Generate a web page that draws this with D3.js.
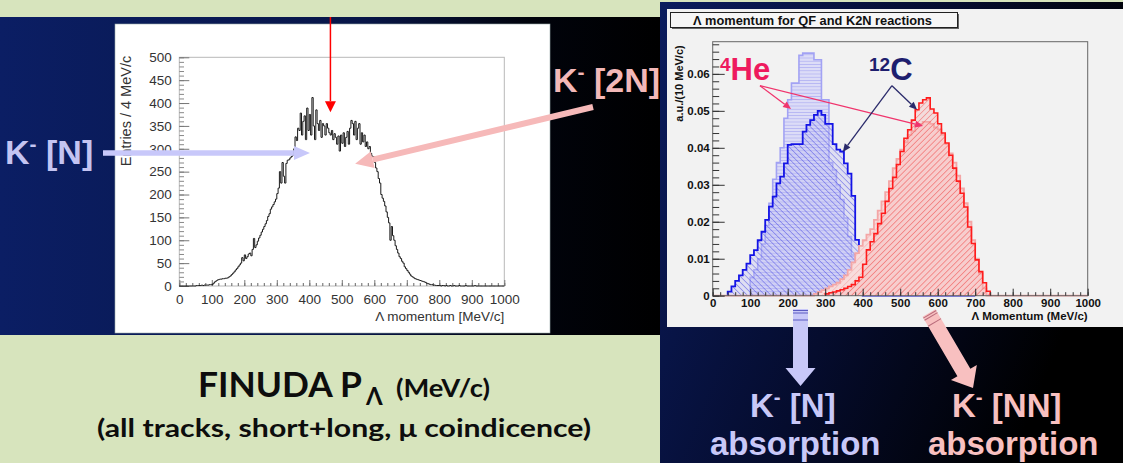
<!DOCTYPE html>
<html>
<head>
<meta charset="utf-8">
<script src="https://cdn.jsdelivr.net/npm/d3@7"></script>
<style>
  body { margin: 0; background: #000; }
  svg { display: block; }
</style>
</head>
<body>
<script>
// ---------- data ----------
// FINUDA histogram, 4 MeV/c bins starting at 0
var finudaBin = 4;
var finudaCounts = [
  0,0,0,0,0,0,0,0,0,0,0,0,0,1,1,1,1,2,1,2,2,2,2,3,3,
  3,6,9,11,13,14,15,15,16,16,17,17,18,20,22,25,28,31,35,38,42,46,50,62,55,
  68,60,64,70,72,66,80,104,84,90,98,105,111,118,124,130,136,143,152,158,168,173,178,184,190,
  202,214,250,225,270,240,225,268,275,276,280,283,286,300,326,318,345,340,378,330,360,372,320,389,340,
  375,330,412,350,320,385,355,340,362,325,355,350,330,355,345,335,330,340,320,333,325,310,328,295,330,
  312,335,305,325,338,310,345,362,355,330,360,320,345,355,310,335,315,330,305,315,300,305,290,284,283,
  270,258,250,235,225,200,192,185,175,162,150,138,100,130,110,100,88,80,72,64,60,54,50,42,38,
  34,30,26,22,20,18,16,15,14,13,12,11,10,9,8,6,5,4,3,3,2,2,1,1,1,
  1,0,1,1,0,1,0,0,1,0,0,1,0,0,0,1,0,0,0,0,1,0,0,0,0,
  0,0,1,0,0,0,0,0,0,0,0,0,0,0,0,0,0,0,0,0,0,0,0,0,0
];
var finudaXTicks = [0,100,200,300,400,500,600,700,800,900,1000];
var finudaYTicks = [0,50,100,150,200,250,300,350,400,450,500];

// simulation, 10 MeV/c bins
var simBin = 10;
var he4QFStart = 100;
var he4QF = [0.005,0.007,0.010,0.014,0.019,0.025,0.0315,0.036,0.040,0.048,
             0.053,0.0575,0.0575,0.065,0.0656,0.0656,0.0656,0.0638,0.0638,0.053,
             0.053,0.036,0.034,0.030,0.026,0.021,0.016,0.011,0.006,0.002];
var c12QFStart = 40;
var c12QF = [0.0011,0.0025,0.004,0.0055,0.007,0.0087,0.011,0.0123,0.015,0.0173,
             0.0205,0.0241,0.0268,0.0304,0.0322,0.0358,0.0408,0.041,0.041,0.041,
             0.0444,0.0462,0.0475,0.0489,0.0500,0.0489,0.0465,0.0465,0.041,0.0395,
             0.039,0.0358,0.033,0.027,0.0151,0.004];
var he4K2NStart = 270;
var he4K2N = [0.0005,0.001,0.0015,0.002,0.0025,0.003,0.0035,0.0045,0.0055,0.007,
              0.009,0.0115,0.0135,0.015,0.0165,0.018,0.0205,0.023,0.0255,0.028,
              0.031,0.0345,0.037,0.0395,0.0415,0.0435,0.0445,0.046,0.0465,0.047,
              0.047,0.0465,0.0455,0.045,0.0435,0.041,0.0385,0.036,0.0325,0.029,
              0.025,0.020,0.015,0.010,0.006,0.002];
var c12K2NStart = 300;
var c12K2N = [0.0005,0.0008,0.001,0.0013,0.0016,0.002,0.0025,0.003,0.004,0.005,
              0.0085,0.0124,0.0146,0.0168,0.0195,0.0223,0.0255,0.029,0.032,0.0355,
              0.039,0.0426,0.0449,0.0475,0.0503,0.0521,0.053,0.0535,0.0505,0.0494,
              0.0465,0.044,0.0413,0.038,0.0345,0.031,0.0277,0.024,0.0186,0.0141,
              0.0097,0.0065,0.0035,0.0012];
var simXTicks = [0,100,200,300,400,500,600,700,800,900,1000];
var simYTicks = [0,0.01,0.02,0.03,0.04,0.05,0.06];

var Main_Context = {};

// step points for a ROOT-like histogram outline
function stepPoints(start, bin, vals, lo, hi) {
  var pts = [[lo, 0]];
  vals.forEach((v, i) => pts.push([start + i * bin, v]));
  pts.push([start + vals.length * bin, 0]);
  pts.push([hi, 0]);
  return pts;
}

// line with a filled head at (x2,y2)
function arrow(g, x1, y1, x2, y2, color, width, len, half) {
  var a = Math.atan2(y2 - y1, x2 - x1);
  var bx = x2 - len * Math.cos(a), by = y2 - len * Math.sin(a);
  g.append("line").attr("x1", x1).attr("y1", y1).attr("x2", bx).attr("y2", by)
    .attr("stroke", color).attr("stroke-width", width);
  g.append("polygon")
    .attr("points", [[x2, y2],
                     [bx + half * Math.sin(a), by - half * Math.cos(a)],
                     [bx - half * Math.sin(a), by + half * Math.cos(a)]].join(" "))
    .attr("fill", color);
}

// K^- style label: "K" + raised dash + rest
function kLabel(g, x, y, size, color, rest) {
  var t = g.append("text").attr("x", x).attr("y", y)
    .attr("font-family", "Liberation Sans, Arial, sans-serif")
    .attr("font-weight", "bold").attr("font-size", size).attr("fill", color);
  t.append("tspan").text("K");
  t.append("tspan").attr("dy", -size * 0.38).attr("font-size", size * 0.62).text("-");
  t.append("tspan").attr("dy", size * 0.38).text(" " + rest);
  return t;
}

_main = (args) => {
  var W = 1123, H = 463;
  var svg = d3.select("body").append("svg").attr("width", W).attr("height", H);
  Main_Context.canvas = svg;

  var defs = svg.append("defs");
  var gl = defs.append("linearGradient").attr("id", "bgLeft");
  gl.append("stop").attr("offset", "0").attr("stop-color", "#0b1e64");
  gl.append("stop").attr("offset", "0.55").attr("stop-color", "#081648");
  gl.append("stop").attr("offset", "0.8").attr("stop-color", "#01030c");
  gl.append("stop").attr("offset", "1").attr("stop-color", "#000000");
  var gr = defs.append("linearGradient").attr("id", "bgRight").attr("x2", "1").attr("y2", "0.4");
  gr.append("stop").attr("offset", "0").attr("stop-color", "#0b1c5e");
  gr.append("stop").attr("offset", "0.55").attr("stop-color", "#050c2e");
  gr.append("stop").attr("offset", "1").attr("stop-color", "#000000");

  // hatch patterns
  function hatch(id, angle, gap, bg, color, w) {
    var p = defs.append("pattern").attr("id", id).attr("patternUnits", "userSpaceOnUse")
      .attr("width", gap).attr("height", gap).attr("patternTransform", "rotate(" + angle + ")");
    p.append("rect").attr("width", gap).attr("height", gap).attr("fill", bg);
    p.append("line").attr("x1", 0).attr("y1", 0).attr("x2", 0).attr("y2", gap)
      .attr("stroke", color).attr("stroke-width", w);
  }
  hatch("hHe4QF", 90, 3.2, "#dcdcf7", "#9b9bf0", 1);
  hatch("hC12QF", -45, 4.2, "rgba(185,185,240,0.35)", "#3c3ce4", 0.8);
  hatch("hHe4K2N", 45, 4.2, "#f8dcdc", "#f2a4a4", 0.9);
  hatch("hC12K2N", 45, 4.2, "rgba(245,170,170,0.3)", "#f04a4a", 0.8);

  // ---------- slide background ----------
  svg.append("rect").attr("width", W).attr("height", H).attr("fill", "#000");
  svg.append("rect").attr("x", 0).attr("y", 0).attr("width", 660).attr("height", 17).attr("fill", "#d7e4bd");
  svg.append("rect").attr("x", 0).attr("y", 17).attr("width", 660).attr("height", 318).attr("fill", "url(#bgLeft)");
  svg.append("rect").attr("x", 0).attr("y", 335).attr("width", 660).attr("height", 128).attr("fill", "#d7e4bd");
  svg.append("rect").attr("x", 660).attr("y", 0).attr("width", 463).attr("height", 463).attr("fill", "url(#bgRight)");
  svg.append("rect").attr("x", 660).attr("y", 0).attr("width", 463).attr("height", 2).attr("fill", "#d7e4bd");

  // ---------- left chart (FINUDA) ----------
  var left = svg.append("g").attr("id", "finuda_g");
  left.append("rect").attr("x", 115).attr("y", 24).attr("width", 435).attr("height", 309)
    .attr("fill", "#fff").attr("stroke", "#9aa").attr("stroke-width", 0.6);

  var xL = d3.scaleLinear().domain([0, 1000]).range([179.3, 504.3]);
  var yL = d3.scaleLinear().domain([0, 500]).range([286, 57.3]);

  left.append("rect").attr("x", xL(0)).attr("y", yL(500))
    .attr("width", xL(1000) - xL(0)).attr("height", yL(0) - yL(500))
    .attr("fill", "none").attr("stroke", "#b8b8b8").attr("stroke-width", 1);

  var lfont = "Liberation Sans, Arial, sans-serif";
  var intFmt = d3.format("d");
  function styleAxis(g, color, size, weight, family) {
    g.select(".domain").remove();
    g.attr("color", color).attr("font-family", family).attr("font-size", size).attr("font-weight", weight);
    g.selectAll("text").attr("fill", color);
  }
  left.append("g").attr("transform", "translate(0," + yL(0) + ")")
    .call(d3.axisBottom(xL).tickValues(d3.range(0, 1001, 20)).tickSize(-3).tickFormat(""))
    .call(g => styleAxis(g, "#666", 13, "normal", lfont));
  left.append("g").attr("transform", "translate(0," + yL(0) + ")")
    .call(d3.axisBottom(xL).tickValues(finudaXTicks).tickSize(-6).tickPadding(8).tickFormat(intFmt))
    .call(g => styleAxis(g, "#333", 13.5, "normal", lfont))
    .call(g => g.selectAll("line").attr("stroke", "#777"));
  left.append("g").attr("transform", "translate(" + xL(0) + ",0)")
    .call(d3.axisLeft(yL).tickValues(d3.range(0, 501, 10)).tickSize(-4.7).tickFormat(""))
    .call(g => styleAxis(g, "#888", 13, "normal", lfont));
  left.append("g").attr("transform", "translate(" + xL(0) + ",0)")
    .call(d3.axisLeft(yL).tickValues(finudaYTicks).tickSize(-10).tickPadding(7.6).tickFormat(intFmt))
    .call(g => styleAxis(g, "#333", 13.5, "normal", lfont))
    .call(g => g.selectAll("line").attr("stroke", "#777"));

  left.append("text").attr("x", xL(1000)).attr("y", 321).attr("text-anchor", "end")
    .attr("font-family", lfont).attr("font-size", 13.5).attr("fill", "#333")
    .text("\u039B momentum [MeV/c]");
  left.append("text").attr("transform", "translate(131,111) rotate(-90)").attr("text-anchor", "middle")
    .attr("font-family", lfont).attr("font-size", 14.5).attr("fill", "#333")
    .text("Entries / 4 MeV/c");

  var finudaLine = d3.line().curve(d3.curveStepAfter).x(d => xL(d[0])).y(d => yL(d[1]));
  left.append("path")
    .datum(stepPoints(0, finudaBin, finudaCounts, 0, 1000))
    .attr("d", finudaLine).attr("fill", "none").attr("stroke", "#1a1a1a").attr("stroke-width", 1);

  // left annotations
  var ann = svg.append("g").attr("id", "left_annotations");
  arrow(ann, xL(465), 17, xL(465), yL(380), "#ff0000", 1.5, 11, 5.5);
  arrow(ann, 103, yL(291), xL(402), yL(291), "#c8c8fa", 5.5, 16, 7);
  arrow(ann, 593, 107, xL(541), yL(267), "#f6b9b9", 6, 18, 8.5);
  kLabel(ann, 5, 164, 34, "#c4c4f2", "[N]");
  kLabel(ann, 553, 92, 34, "#f3b8b8", "[2N]");

  // bottom caption (left)
  var cap = svg.append("g").attr("font-family", "Lato, 'Open Sans', sans-serif").attr("font-weight", "bold").attr("fill", "#0d0d0d");
  cap.append("text").attr("x", 198).attr("y", 397).attr("font-size", 35)
    .attr("textLength", 164).attr("lengthAdjust", "spacingAndGlyphs").text("FINUDA P");
  cap.append("text").attr("x", 366).attr("y", 405).attr("font-size", 24).text("\u039B");
  cap.append("text").attr("x", 396).attr("y", 397).attr("font-size", 24)
    .attr("textLength", 94).attr("lengthAdjust", "spacingAndGlyphs").text("(MeV/c)");
  cap.append("text").attr("x", 97).attr("y", 437).attr("font-size", 24)
    .attr("textLength", 494).attr("lengthAdjust", "spacingAndGlyphs")
    .text("(all tracks, short+long, \u03BC coindicence)");

  // ---------- right chart (simulation) ----------
  var right = svg.append("g").attr("id", "sim_g");
  right.append("rect").attr("x", 667).attr("y", 9).attr("width", 456).attr("height", 318).attr("fill", "#f2f2f2");

  var xR = d3.scaleLinear().domain([0, 1000]).range([712.7, 1087.7]);
  var yR = d3.scaleLinear().domain([0, 0.0687]).range([295.7, 41.7]);

  // title box
  right.append("rect").attr("x", 672).attr("y", 14).attr("width", 287).attr("height", 15).attr("fill", "#666");
  right.append("rect").attr("x", 670.5).attr("y", 12.5).attr("width", 287).attr("height", 15)
    .attr("fill", "#f6f6f6").attr("stroke", "#222").attr("stroke-width", 1);
  right.append("text").attr("x", 693).attr("y", 24.5)
    .attr("font-family", lfont).attr("font-weight", "bold").attr("font-size", 12).attr("fill", "#111")
    .attr("textLength", 239).attr("lengthAdjust", "spacingAndGlyphs")
    .text("\u039B momentum for QF and K2N reactions");

  var area = d3.area().curve(d3.curveStepAfter).x(d => xR(d[0])).y0(yR(0)).y1(d => yR(d[1]));
  var line = d3.line().curve(d3.curveStepAfter).x(d => xR(d[0])).y(d => yR(d[1]));
  var hists = [
    { start: he4QFStart, vals: he4QF, lo: he4QFStart, hi: 400, fill: "url(#hHe4QF)", stroke: "#a2a2f4", w: 1.6 },
    { start: c12QFStart, vals: c12QF, lo: c12QFStart, hi: 700, fill: "url(#hC12QF)", stroke: "#1414e6", w: 1.8 },
    { start: he4K2NStart, vals: he4K2N, lo: 0, hi: 1000, fill: "url(#hHe4K2N)", stroke: "#f4a6a6", w: 1.8 },
    { start: c12K2NStart, vals: c12K2N, lo: c12K2NStart, hi: 740, fill: "url(#hC12K2N)", stroke: "#ff1c1c", w: 1.6 }
  ];
  var hg = right.append("g").attr("id", "hists_g");
  hists.forEach(h => {
    var pts = stepPoints(h.start, simBin, h.vals, h.lo, h.hi);
    hg.append("path").datum(pts).attr("d", area).attr("fill", h.fill);
    hg.append("path").datum(pts).attr("d", line).attr("fill", "none")
      .attr("stroke", h.stroke).attr("stroke-width", h.w);
  });

  right.append("rect").attr("x", xR(0)).attr("y", yR(0.0687))
    .attr("width", xR(1000) - xR(0)).attr("height", yR(0) - yR(0.0687))
    .attr("fill", "none").attr("stroke", "#666").attr("stroke-width", 1);

  right.append("g").attr("transform", "translate(0," + yR(0) + ")")
    .call(d3.axisBottom(xR).tickValues(d3.range(0, 1001, 20)).tickSize(-3.5).tickFormat(""))
    .call(g => styleAxis(g, "#333", 11.5, "bold", lfont));
  right.append("g").attr("transform", "translate(0," + yR(0) + ")")
    .call(d3.axisBottom(xR).tickValues(simXTicks).tickSize(-7).tickPadding(3).tickFormat(intFmt))
    .call(g => styleAxis(g, "#111", 11.5, "bold", lfont))
    .call(g => g.selectAll("line").attr("stroke", "#333"));
  right.append("g").attr("transform", "translate(" + xR(0) + ",0)")
    .call(d3.axisLeft(yR).tickValues(d3.range(0, 0.0681, 0.002)).tickSize(-6.5).tickFormat(""))
    .call(g => styleAxis(g, "#333", 11.5, "bold", lfont));
  right.append("g").attr("transform", "translate(" + xR(0) + ",0)")
    .call(d3.axisLeft(yR).tickValues(simYTicks).tickSize(-12).tickPadding(3)
      .tickFormat(d => d === 0 ? "0" : d3.format(".2f")(d)))
    .call(g => styleAxis(g, "#111", 11.5, "bold", lfont))
    .call(g => g.selectAll("line").attr("stroke", "#333"));

  right.append("text").attr("x", xR(1000)).attr("y", 320).attr("text-anchor", "end")
    .attr("font-family", lfont).attr("font-weight", "bold").attr("font-size", 11.5).attr("fill", "#111")
    .text("\u039B Momentum (MeV/c)");
  right.append("text").attr("transform", "translate(683,83.5) rotate(-90)").attr("text-anchor", "middle")
    .attr("font-family", lfont).attr("font-weight", "bold").attr("font-size", 11).attr("fill", "#111")
    .text("a.u./(10 MeV/c)");

  // nucleus labels and pointers
  var he = right.append("text").attr("x", 720).attr("y", 80)
    .attr("font-family", lfont).attr("font-weight", "bold").attr("fill", "#ee1a5e");
  he.append("tspan").attr("font-size", 19).attr("dy", -9).text("4");
  he.append("tspan").attr("font-size", 31).attr("dy", 9).text("He");
  var cc = right.append("text").attr("x", 869).attr("y", 80)
    .attr("font-family", lfont).attr("font-weight", "bold").attr("fill", "#1e1e6e");
  cc.append("tspan").attr("font-size", 19).attr("dy", -9).text("12");
  cc.append("tspan").attr("font-size", 31).attr("dy", 9).text("C");

  arrow(right, xR(126), yR(0.0568), xR(209), yR(0.0505), "#f0346c", 1.3, 8, 3.5);
  arrow(right, xR(126), yR(0.0568), xR(561), yR(0.0459), "#f0346c", 1.3, 8, 3.5);
  arrow(right, xR(478), yR(0.0568), xR(545), yR(0.0503), "#2b2b6b", 1.3, 8, 3.5);
  arrow(right, xR(478), yR(0.0568), xR(347), yR(0.0389), "#2b2b6b", 1.3, 8, 3.5);

  // big absorption arrows
  var big = svg.append("g").attr("id", "absorption_g");
  function bigArrow(x1, y1, x2, y2, color, dark) {
    var a = Math.atan2(y2 - y1, x2 - x1) * 180 / Math.PI;
    var L = Math.hypot(x2 - x1, y2 - y1);
    var g = big.append("g").attr("transform", "translate(" + x1 + "," + y1 + ") rotate(" + a + ")");
    g.append("polygon").attr("fill", color)
      .attr("points", [[0, -7.5], [L - 18, -7.5], [L - 18, -15], [L, 0], [L - 18, 15], [L - 18, 7.5], [0, 7.5]].join(" "));
    [1.5, 4, 11].forEach(d => g.append("line").attr("x1", d).attr("x2", d).attr("y1", -7.5).attr("y2", 7.5)
      .attr("stroke", dark).attr("stroke-width", 1));
  }
  bigArrow(800.5, 309, 800.5, 386, "#c8c8f8", "#5a5ac0");
  bigArrow(929, 313, 973, 388, "#f8c0c0", "#b86a7a");

  kLabel(big, 750, 417, 33, "#c8c8f8", "[N]");
  big.append("text").attr("x", 710).attr("y", 455).attr("font-family", lfont).attr("font-weight", "bold")
    .attr("font-size", 33).attr("fill", "#c8c8f8").text("absorption");
  kLabel(big, 952, 417, 33, "#f8c0c0", "[NN]");
  big.append("text").attr("x", 928).attr("y", 455).attr("font-family", lfont).attr("font-weight", "bold")
    .attr("font-size", 33).attr("fill", "#f8c0c0").text("absorption");
};

document.addEventListener("DOMContentLoaded", function () {
  _main({});
});
</script>
</body>
</html>
